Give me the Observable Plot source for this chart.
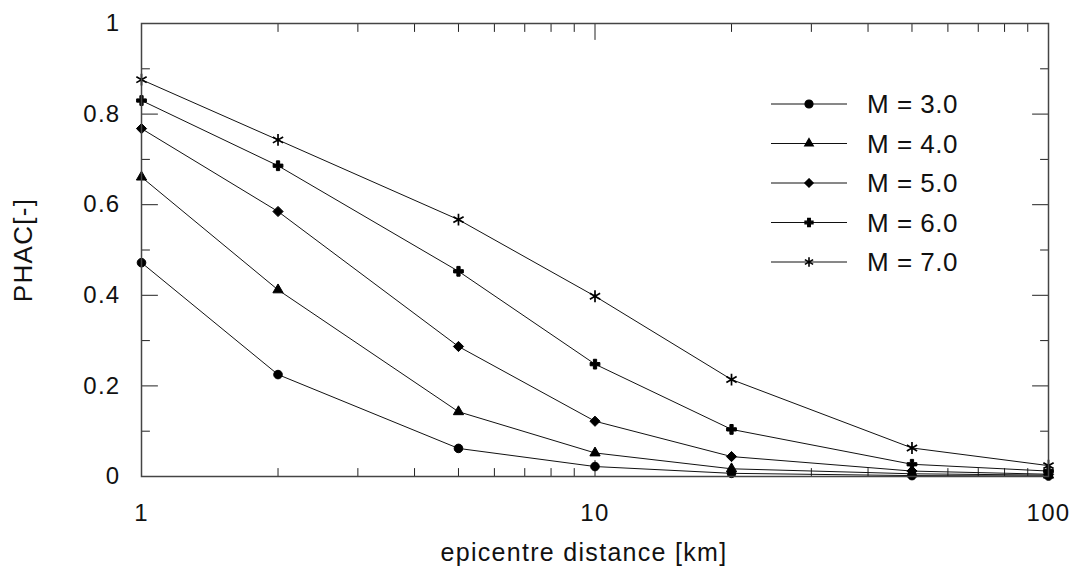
<!DOCTYPE html>
<html>
<head>
<meta charset="utf-8">
<script src="https://cdn.jsdelivr.net/npm/d3@7"></script>
<script src="https://cdn.jsdelivr.net/npm/@observablehq/plot@0.6"></script>
<style>
  html, body { margin: 0; padding: 0; background: #fff; }
  #chart { position: relative; width: 1072px; height: 566px; }
</style>
</head>
<body>
<div id="chart"></div>
<script>
// ---- data ----
const distances = [1, 2, 5, 10, 20, 50, 100];
const seriesNames = ["M = 3.0", "M = 4.0", "M = 5.0", "M = 6.0", "M = 7.0"];
const m3 = [0.472, 0.225, 0.062, 0.022, 0.007, 0.002, 0.001];
const m4 = [0.661, 0.412, 0.143, 0.052, 0.017, 0.006, 0.003];
const m5 = [0.768, 0.585, 0.287, 0.122, 0.044, 0.012, 0.005];
const m6 = [0.830, 0.686, 0.453, 0.248, 0.104, 0.027, 0.012];
const m7 = [0.876, 0.743, 0.567, 0.398, 0.214, 0.063, 0.024];
const xTickLabels = [1, 10, 100];
const xMinorTicks = [2, 3, 4, 5, 6, 7, 8, 9, 20, 30, 40, 50, 60, 70, 80, 90];
const yTickLabels = [0, 0.2, 0.4, 0.6, 0.8, 1];
const yMinorTicks = [0.1, 0.3, 0.5, 0.7, 0.9];
const xLabel = "epicentre distance [km]";
const yLabel = "PHAC[-]";

// ---- styles ----
const symbols = ["circle", "triangle", "diamond2", "cross", "asterisk"];
const symbolR = [4.3, 3.8, 4.6, 4.1, 5.6];
const symbolSW = [1, 1, 1, 1, 1.7];
const seriesValues = [m3, m4, m5, m6, m7];
const rows = [];
seriesNames.forEach((s, si) => distances.forEach((d, i) => rows.push({series: s, si, dist: d, value: seriesValues[si][i]})));

const FONT = "'Liberation Sans', Arial, Helvetica, sans-serif";
const INK = "#222";
const tickShape = {draw(context, l) { context.moveTo(0, 0); context.lineTo(0, -l); }};
const tickMark = (data, dim, anchor, length) => Plot.vector(data, {
  [dim]: d => d, frameAnchor: anchor, length, anchor: "start", shape: tickShape,
  rotate: anchor === "bottom" ? 0 : anchor === "top" ? 180 : anchor === "left" ? 90 : -90,
  stroke: INK, strokeWidth: 1
});

const plot = Plot.plot({
  width: 1072,
  height: 566,
  marginLeft: 141,
  marginRight: 24,
  marginTop: 23,
  marginBottom: 90,
  style: {fontFamily: FONT, fontSize: "24px", color: "#111", background: "#fff", letterSpacing: "1.3px"},
  x: {type: "log", domain: [1, 100]},
  y: {domain: [0, 1]},
  r: {type: "identity"},
  symbol: {domain: seriesNames, range: symbols},
  marks: [
    Plot.axisX(xTickLabels, {tickSize: 0, tickPadding: 27, tickFormat: d => String(d), label: null, fontSize: 24}),
    Plot.axisY(yTickLabels, {tickSize: 0, tickPadding: 21, tickFormat: d => String(d), label: null, fontSize: 24}),
    tickMark(xTickLabels, "x", "bottom", 16),
    tickMark(xTickLabels, "x", "top", 16),
    tickMark(xMinorTicks, "x", "bottom", 8),
    tickMark(xMinorTicks, "x", "top", 8),
    tickMark(yTickLabels, "y", "left", 16),
    tickMark(yTickLabels, "y", "right", 16),
    tickMark(yMinorTicks, "y", "left", 8),
    tickMark(yMinorTicks, "y", "right", 8),
    Plot.line(rows, {x: "dist", y: "value", z: "series", stroke: "#111", strokeWidth: 1}),
    Plot.dot(rows, {x: "dist", y: "value", symbol: "series", r: d => symbolR[d.si], fill: "#000", stroke: "#000", strokeWidth: d => symbolSW[d.si]}),
    Plot.frame({stroke: "#444", strokeWidth: 1.5}),
    Plot.text([xLabel], {text: d => d, frameAnchor: "bottom", dx: -11, dy: 76, fontSize: 25, fill: "#111", lineAnchor: "middle", textAnchor: "middle"}),
    Plot.text([yLabel], {text: d => d, frameAnchor: "left", dx: -118, rotate: -90, fontSize: 26, fill: "#111", lineAnchor: "middle", textAnchor: "middle"})
  ]
});
plot.style.position = "absolute";
plot.style.left = "0px";
plot.style.top = "0px";
document.getElementById("chart").appendChild(plot);

// ---- legend (inside plot, top right) ----
const svg = d3.select(plot);
const legend = svg.append("g").attr("font-family", FONT).attr("font-size", 26).attr("text-anchor", "start").style("letter-spacing", "0.5px");
const symbolTypes = {circle: d3.symbolCircle, triangle: d3.symbolTriangle, diamond2: d3.symbolDiamond2, cross: d3.symbolCross, asterisk: d3.symbolAsterisk};
const legendR = [4, 3.2, 3.8, 3.4, 4.5];
seriesNames.forEach((name, i) => {
  const g = legend.append("g").attr("transform", `translate(771,${104 + i * 39.5})`);
  g.append("line").attr("x1", 0).attr("x2", 76).attr("stroke", "#111").attr("stroke-width", 1);
  g.append("path").attr("transform", "translate(38,0)")
    .attr("d", d3.symbol(symbolTypes[symbols[i]], Math.PI * legendR[i] * legendR[i])())
    .attr("fill", "#000").attr("stroke", "#000").attr("stroke-width", i === 4 ? 1.6 : 1.2);
  g.append("text").attr("x", 96).attr("dy", "0.36em").attr("fill", "#111").text(name);
});
</script>
</body>
</html>
